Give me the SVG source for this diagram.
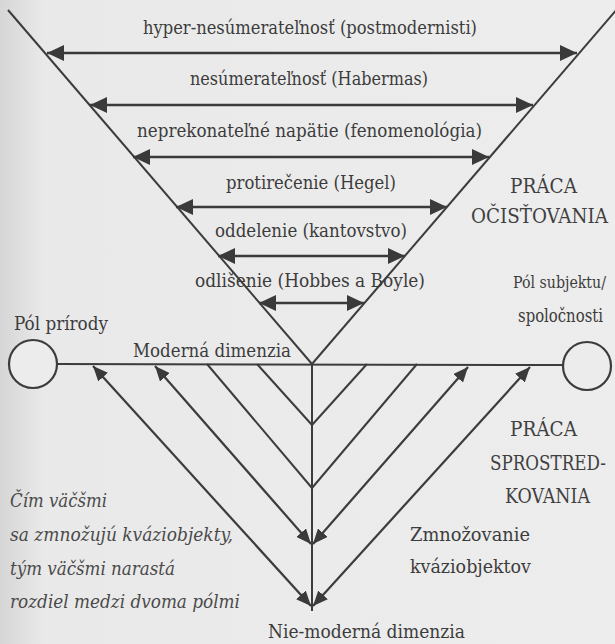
<svg xmlns="http://www.w3.org/2000/svg" width="615" height="644" viewBox="0 0 615 644">
<defs>
<linearGradient id="bg" x1="0" y1="0" x2="1" y2="0">
<stop offset="0" stop-color="#d6d6d6"/>
<stop offset="0.07" stop-color="#e9e9e9"/>
<stop offset="1" stop-color="#ededed"/>
</linearGradient>
<marker id="ah" markerUnits="userSpaceOnUse" markerWidth="17" markerHeight="16" refX="17" refY="8" orient="auto-start-reverse" viewBox="0 0 17 16">
<path d="M0,0 L17,8 L0,16 Z" fill="#3a3a3a"/>
</marker>
<marker id="as" markerUnits="userSpaceOnUse" markerWidth="15" markerHeight="13" refX="15" refY="6.5" orient="auto-start-reverse" viewBox="0 0 15 13">
<path d="M0,0 L15,6.5 L0,13 Z" fill="#3a3a3a"/>
</marker>
<style>
.ln{stroke:#3c3c3c;stroke-width:2;fill:none}
.ha{stroke:#3a3a3a;stroke-width:2.6;fill:none;marker-start:url(#ah);marker-end:url(#ah)}
.la{stroke:#3c3c3c;stroke-width:2.2;fill:none;marker-start:url(#as);marker-end:url(#as)}
.pole{stroke:#3c3c3c;stroke-width:2.2;fill:#ececec}
text{font-family:'DejaVu Serif';font-stretch:condensed}
.t{font-size:19px;fill:#3c3c3c}
.s{font-size:17px;fill:#3c3c3c}
.c{font-size:20px;fill:#404040}
.i{font-size:19px;font-style:italic;fill:#4a4a4a}
.r{text-anchor:end}
</style>
</defs>
<rect x="0" y="0" width="615" height="644" fill="url(#bg)"/>

<g id="connectors">
<line class="ln" x1="8" y1="10" x2="312" y2="364"/>
<line class="ln" x1="312" y1="364" x2="618" y2="8"/>
<line class="ln" x1="57" y1="364" x2="563" y2="365"/>
<line class="ln" x1="312" y1="364" x2="312" y2="611"/>
<line class="ln" x1="257" y1="364" x2="312" y2="425"/>
<line class="ln" x1="367" y1="364" x2="312" y2="425"/>
<line class="ln" x1="207" y1="364" x2="312" y2="488"/>
<line class="ln" x1="417" y1="364" x2="312" y2="488"/>
<line class="ha" x1="47" y1="53" x2="577" y2="53"/>
<line class="ha" x1="90" y1="105" x2="533" y2="105"/>
<line class="ha" x1="133" y1="157" x2="489" y2="157"/>
<line class="ha" x1="176" y1="207" x2="447" y2="207"/>
<line class="ha" x1="218" y1="256" x2="405" y2="256"/>
<line class="ha" x1="259" y1="303" x2="364" y2="303"/>
<line class="la" x1="93" y1="366" x2="311" y2="606"/>
<line class="la" x1="155" y1="366" x2="311" y2="544"/>
<line class="la" x1="530" y1="367" x2="313" y2="606"/>
<line class="la" x1="468" y1="367" x2="313" y2="544"/>
</g>

<g id="pole-prirody">
<circle class="pole" cx="33" cy="364" r="24"/>
<text class="t" x="14" y="330" textLength="94" lengthAdjust="spacingAndGlyphs">Pól prírody</text>
</g>
<g id="pole-subjektu">
<circle class="pole" cx="587" cy="366" r="24"/>
<text class="s r" x="606" y="288" textLength="93" lengthAdjust="spacingAndGlyphs">Pól subjektu/</text>
<text class="t r" x="603" y="322" textLength="85" lengthAdjust="spacingAndGlyphs">spoločnosti</text>
</g>

<g id="level-labels">
<text class="t" x="143" y="34" textLength="334" lengthAdjust="spacingAndGlyphs">hyper-nesúmerateľnosť (postmodernisti)</text>
<text class="t" x="190" y="85" textLength="238" lengthAdjust="spacingAndGlyphs">nesúmerateľnosť (Habermas)</text>
<text class="t" x="137" y="137" textLength="345" lengthAdjust="spacingAndGlyphs">neprekonateľné napätie (fenomenológia)</text>
<text class="t" x="226" y="189" textLength="170" lengthAdjust="spacingAndGlyphs">protirečenie (Hegel)</text>
<text class="t" x="215" y="237" textLength="192" lengthAdjust="spacingAndGlyphs">oddelenie (kantovstvo)</text>
<text class="t" x="195" y="287" textLength="230" lengthAdjust="spacingAndGlyphs">odlišenie (Hobbes a Boyle)</text>
</g>

<g id="moderna-dimenzia">
<text class="t" x="133" y="357" textLength="158" lengthAdjust="spacingAndGlyphs">Moderná dimenzia</text>
</g>
<g id="nie-moderna-dimenzia">
<text class="t" x="268" y="638" textLength="197" lengthAdjust="spacingAndGlyphs">Nie-moderná dimenzia</text>
</g>

<g id="praca-ocistovania">
<text class="c r" x="577" y="193" textLength="67" lengthAdjust="spacingAndGlyphs">PRÁCA</text>
<text class="c r" x="608" y="223" textLength="137" lengthAdjust="spacingAndGlyphs">OČISŤOVANIA</text>
</g>
<g id="praca-sprostredkovania">
<text class="c r" x="577" y="436" textLength="67" lengthAdjust="spacingAndGlyphs">PRÁCA</text>
<text class="c r" x="606" y="470" textLength="116" lengthAdjust="spacingAndGlyphs">SPROSTRED-</text>
<text class="c r" x="590" y="503" textLength="85" lengthAdjust="spacingAndGlyphs">KOVANIA</text>
</g>
<g id="zmnozovanie">
<text class="t" x="410" y="541" textLength="120" lengthAdjust="spacingAndGlyphs">Zmnožovanie</text>
<text class="t" x="410" y="573" textLength="121" lengthAdjust="spacingAndGlyphs">kváziobjektov</text>
</g>
<g id="poznamka">
<text class="i" x="10" y="507" textLength="97" lengthAdjust="spacingAndGlyphs">Čím väčšmi</text>
<text class="i" x="10" y="541" textLength="223" lengthAdjust="spacingAndGlyphs">sa zmnožujú kváziobjekty,</text>
<text class="i" x="10" y="575" textLength="165" lengthAdjust="spacingAndGlyphs">tým väčšmi narastá</text>
<text class="i" x="10" y="608" textLength="230" lengthAdjust="spacingAndGlyphs">rozdiel medzi dvoma pólmi</text>
</g>
</svg>
